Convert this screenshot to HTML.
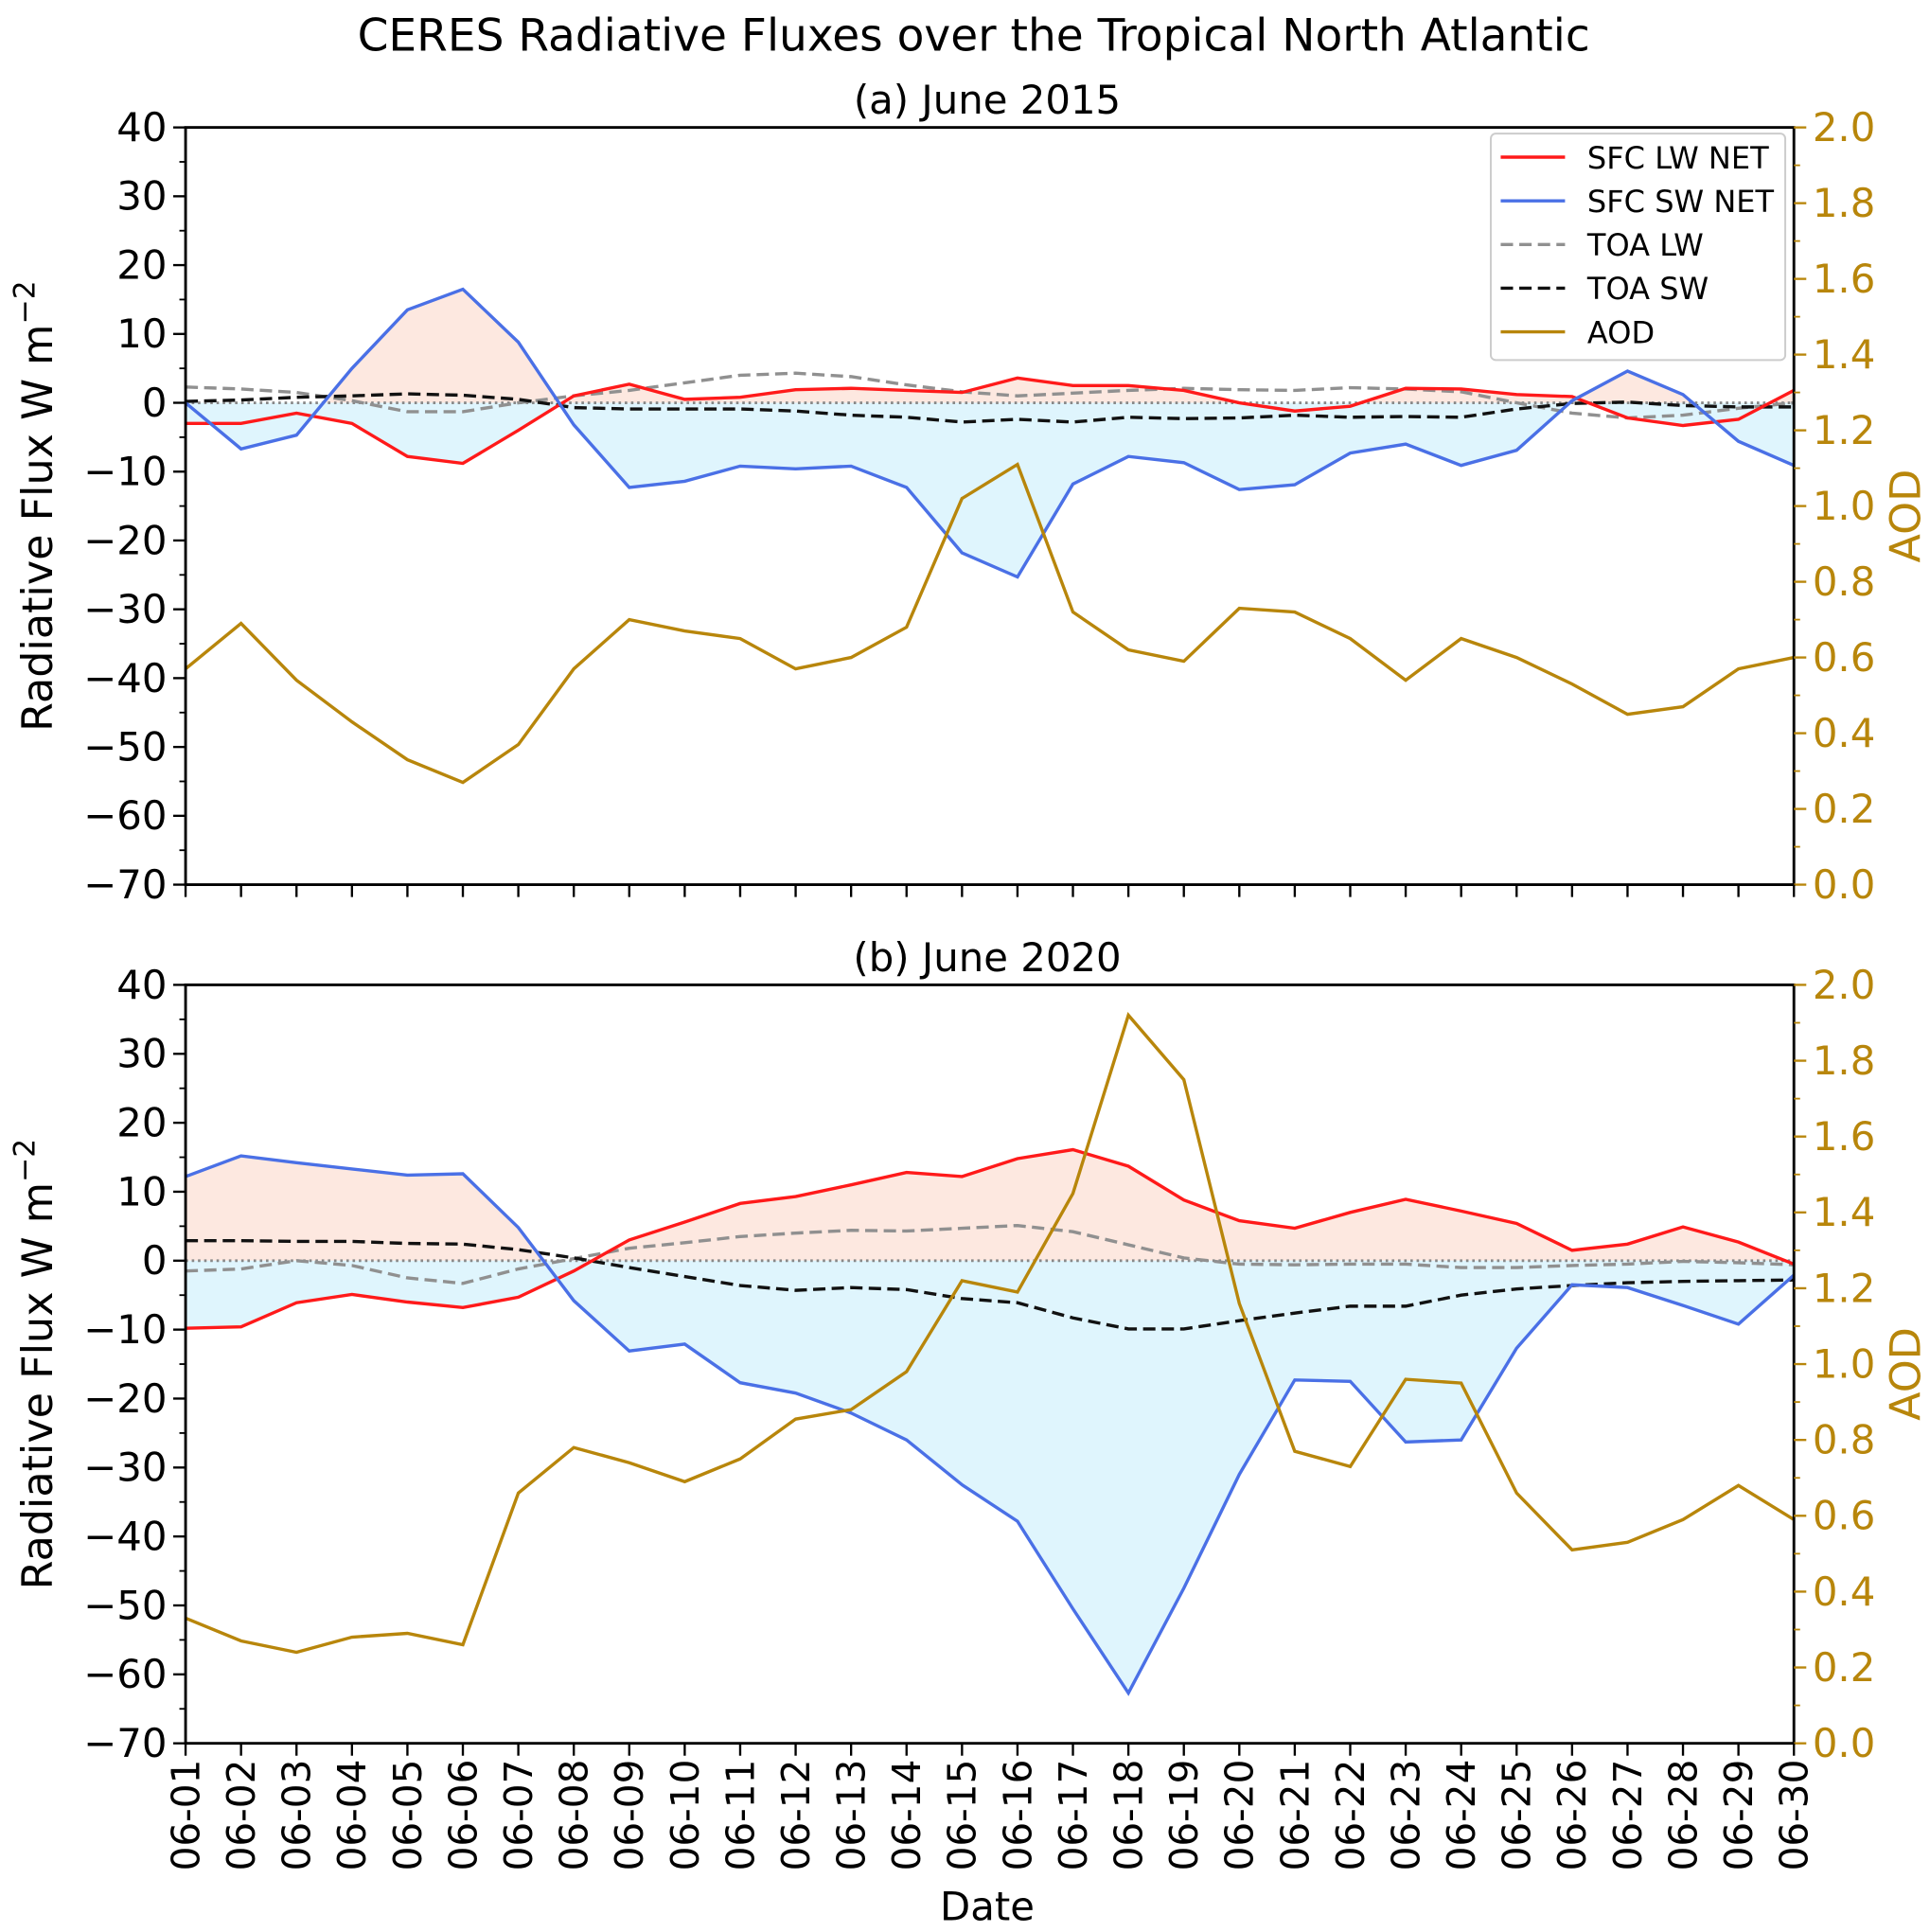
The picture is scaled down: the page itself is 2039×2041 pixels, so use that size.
<!DOCTYPE html>
<html><head><meta charset="utf-8"><style>
html,body{margin:0;padding:0;background:#fff}
svg{display:block}
text{font-family:"DejaVu Sans","Liberation Sans",sans-serif}
</style></head>
<body>
<svg id="chart" width="2039" height="2041" viewBox="0 0 1560 1561.5" preserveAspectRatio="none" xmlns="http://www.w3.org/2000/svg">
<text x="787" y="41" font-size="36" text-anchor="middle">CERES Radiative Fluxes over the Tropical North Atlantic</text>
<g id="plots"></g>
</svg>
<script>
const dates = ["06-01","06-02","06-03","06-04","06-05","06-06","06-07","06-08","06-09","06-10","06-11","06-12","06-13","06-14","06-15","06-16","06-17","06-18","06-19","06-20","06-21","06-22","06-23","06-24","06-25","06-26","06-27","06-28","06-29","06-30"];
const yTicks = [40,30,20,10,0,-10,-20,-30,-40,-50,-60,-70];
const aodTicks = [0.0,0.2,0.4,0.6,0.8,1.0,1.2,1.4,1.6,1.8,2.0];
const lw2015 = [-3,-3,-1.5,-3,-7.8,-8.8,-4,1,2.7,0.5,0.8,1.9,2.1,1.8,1.5,3.6,2.5,2.5,1.8,0,-1.2,-0.5,2.1,2,1.2,0.9,-2.2,-3.3,-2.4,1.8];
const sw2015 = [0,-6.7,-4.7,5,13.5,16.5,8.8,-3.2,-12.3,-11.4,-9.2,-9.6,-9.2,-12.3,-21.8,-25.3,-11.8,-7.8,-8.7,-12.6,-11.9,-7.3,-6,-9.1,-6.9,0.3,4.6,1.2,-5.6,-9.1];
const toaLw2015 = [2.3,2.0,1.5,0.3,-1.3,-1.3,0,1.0,1.8,2.9,4.0,4.3,3.8,2.6,1.6,1.0,1.4,1.8,2.1,1.9,1.8,2.2,2.0,1.6,0,-1.5,-2.2,-1.8,-0.8,0];
const toaSw2015 = [0.2,0.4,0.8,1,1.3,1.1,0.5,-0.7,-0.9,-0.9,-0.9,-1.2,-1.8,-2.1,-2.8,-2.4,-2.8,-2.1,-2.3,-2.2,-1.8,-2.1,-2,-2.1,-0.9,-0.1,0.1,-0.4,-0.6,-0.6];
const aod2015 = [0.57,0.69,0.54,0.43,0.33,0.27,0.37,0.57,0.70,0.67,0.65,0.57,0.60,0.68,1.02,1.11,0.72,0.62,0.59,0.73,0.72,0.65,0.54,0.65,0.60,0.53,0.45,0.47,0.57,0.60];
const lw2020 = [-9.8,-9.6,-6.1,-4.9,-6.0,-6.8,-5.3,-1.5,3,5.6,8.3,9.3,11,12.8,12.2,14.8,16.1,13.7,8.8,5.8,4.7,7,8.9,7.2,5.4,1.5,2.4,4.9,2.7,-0.5];
const sw2020 = [12.2,15.2,14.2,13.3,12.4,12.6,4.8,-5.8,-13.1,-12.1,-17.7,-19.2,-22.1,-26,-32.5,-37.8,-50.5,-62.7,-47.5,-31,-17.3,-17.5,-26.3,-26,-12.7,-3.5,-3.9,-6.5,-9.2,-2.1];
const toaLw2020 = [-1.5,-1.2,0,-0.7,-2.5,-3.3,-1.2,0.3,1.8,2.6,3.5,4,4.4,4.3,4.7,5.1,4.2,2.3,0.4,-0.5,-0.6,-0.5,-0.5,-1,-1,-0.7,-0.5,-0.1,-0.3,-0.6];
const toaSw2020 = [2.9,2.9,2.8,2.8,2.5,2.4,1.6,0.4,-1,-2.3,-3.6,-4.3,-3.9,-4.2,-5.5,-6.1,-8.3,-9.9,-9.9,-8.7,-7.6,-6.6,-6.6,-5,-4.1,-3.6,-3.2,-3,-2.9,-2.8];
const aod2020 = [0.33,0.27,0.24,0.28,0.29,0.26,0.66,0.78,0.74,0.69,0.75,0.855,0.88,0.98,1.22,1.19,1.45,1.92,1.75,1.16,0.77,0.73,0.96,0.95,0.66,0.51,0.53,0.59,0.68,0.59];

const NS="http://www.w3.org/2000/svg";
const root=document.getElementById('plots');
const GOLD="#b8860b";
function el(tag,attrs,parent,txt){const e=document.createElementNS(NS,tag);for(const k in attrs)e.setAttribute(k,attrs[k]);if(txt!==undefined)e.textContent=txt;(parent||root).appendChild(e);return e;}
const X0=150,X1=1450;
function xs(i){return X0+i*(X1-X0)/(dates.length-1);}

function panel(top,bottom,title,lw,sw,tlw,tsw,aod,showX,idx,showLegend){
  const g=el('g',{});
  
  
  const ys=v=>bottom-(v+70)*(bottom-top)/110;
  const ya=v=>bottom-v*(bottom-top)/2;
  let up=[],dn=[];
  const N=20;
  for(let i=0;i<dates.length-1;i++){for(let k=0;k<=(i==dates.length-2?N:N-1);k++){const t=k/N;const a=lw[i]+(lw[i+1]-lw[i])*t;const b=sw[i]+(sw[i+1]-sw[i])*t;const x=xs(i)+t*(xs(i+1)-xs(i));up.push([x,Math.max(0,a,b)]);dn.push([x,Math.min(0,a,b)]);}}
  const poly=(arr)=>'M'+xs(0)+','+ys(0)+' '+arr.map(p=>'L'+p[0].toFixed(2)+','+ys(p[1]).toFixed(2)).join(' ')+' L'+xs(dates.length-1)+','+ys(0)+'Z';
  const fp=el('path',{d:poly(up),fill:'#fde8e0',stroke:'none'},g);
  
  
  const fn=el('path',{d:poly(dn),fill:'#dff5fd',stroke:'none'},g);
  
  
  const z=el('line',{x1:X0,x2:X1,y1:ys(0),y2:ys(0),stroke:'#888',"stroke-width":2.2,"stroke-dasharray":"2,3"},g);
  
  
  function line(arr,sc,color,dash,name){const p=el('polyline',{points:arr.map((v,i)=>xs(i).toFixed(2)+','+sc(v).toFixed(2)).join(' '),fill:'none',stroke:color,"stroke-width":2.6,"stroke-dasharray":dash||'none'},g);}
  line(tlw,ys,'#909090','10,5','toa-lw-line');
  line(tsw,ys,'#111','10,5','toa-sw-line');
  line(lw,ys,'#ff1a1a',null,'sfc-lw-net-line');
  line(sw,ys,'#4a70e6',null,'sfc-sw-net-line');
  line(aod,ya,GOLD,null,'aod-line');
  const fr=el('rect',{x:X0,y:top,width:X1-X0,height:bottom-top,fill:'none',stroke:'#000',"stroke-width":2.2},g);
  
  
  yTicks.forEach(v=>{const y=ys(v);el('line',{x1:X0-10,x2:X0,y1:y,y2:y,stroke:'#000',"stroke-width":1.8},g);
    const t=el('text',{x:X0-15,y:y+11,"font-size":32,"text-anchor":"end"},g,v<0?'\u2212'+(-v):String(v));});
  for(let v=-65;v<40;v+=10){const y=ys(v);el('line',{x1:X0-5,x2:X0,y1:y,y2:y,stroke:'#000',"stroke-width":1.4},g);}
  aodTicks.forEach(v=>{const y=ya(v);el('line',{x1:X1,x2:X1+10,y1:y,y2:y,stroke:GOLD,"stroke-width":1.8},g);
    const t=el('text',{x:X1+15,y:y+11,"font-size":32,fill:GOLD},g,v.toFixed(1));});
  for(let v=0.1;v<2;v+=0.2){const y=ya(v);el('line',{x1:X1,x2:X1+5,y1:y,y2:y,stroke:GOLD,"stroke-width":1.4},g);}
  dates.forEach((d,i)=>{el('line',{x1:xs(i),x2:xs(i),y1:bottom,y2:bottom+10,stroke:'#000',"stroke-width":1.8},g);
    if(showX){const t=el('text',{x:0,y:0,"font-size":31,"text-anchor":"end",transform:`translate(${xs(i)+11},${bottom+13}) rotate(-90)`},g,d);}});
  const st=el('text',{x:798,y:top-11,"font-size":32,"text-anchor":"middle"},g,title);
  
  const cy=(top+bottom)/2;
  const yl=el('text',{x:0,y:0,"font-size":34,"text-anchor":"middle",transform:`translate(42,${cy}) rotate(-90)`},g);
  
  yl.innerHTML='Radiative Flux W m<tspan dy="-14" font-size="24">\u22122</tspan>';
  const al=el('text',{x:0,y:0,"font-size":34,fill:GOLD,"text-anchor":"middle",transform:`translate(1552,${cy+8}) rotate(-90)`},g,'AOD');
  
  if(showLegend){
    const lg=el('g',{},g);
    el('rect',{x:1205,y:108,width:238,height:183,rx:4,fill:'#fff',stroke:'#ccc',"stroke-width":1.5},lg);
    const items=[['SFC LW NET','#ff1a1a',null],['SFC SW NET','#4a70e6',null],['TOA LW','#909090','10,5'],['TOA SW','#111','10,5'],['AOD',GOLD,null]];
    items.forEach((it,k)=>{const y=127+k*35.3;const e=el('g',{},lg);
      el('line',{x1:1213,x2:1265,y1:y,y2:y,stroke:it[1],"stroke-width":2.6,"stroke-dasharray":it[2]||'none'},e);
      el('text',{x:1283,y:y+9,"font-size":24.5},e,it[0]);});
  }
}
panel(103,715,'(a) June 2015',lw2015,sw2015,toaLw2015,toaSw2015,aod2015,false,'2015',true);
panel(796,1409,'(b) June 2020',lw2020,sw2020,toaLw2020,toaSw2020,aod2020,true,'2020',false);
const xt=el('text',{x:798,y:1552,"font-size":32,"text-anchor":"middle"},root,'Date');


</script>
</body></html>
